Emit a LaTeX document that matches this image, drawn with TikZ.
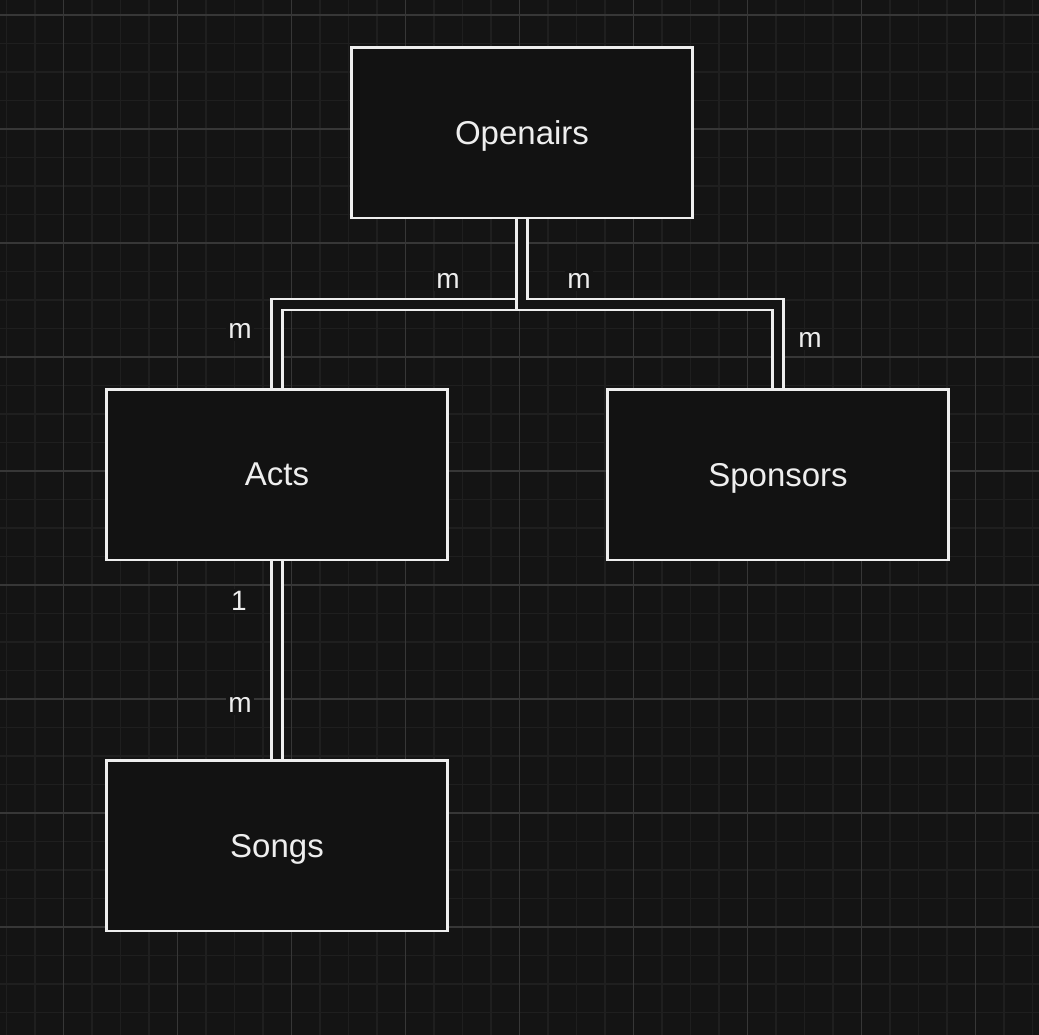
\documentclass[tikz,border=0pt]{standalone}
\usepackage{fontspec}
\setmainfont{Liberation Sans}

\definecolor{canvas}{HTML}{141414}
\definecolor{minorline}{HTML}{1F1F1F}
\definecolor{majorline}{HTML}{373737}
\definecolor{boxfill}{HTML}{121212}
\definecolor{inkline}{HTML}{EEEEEE}

\tikzset{
  minorgrid/.style={draw=minorline, line width=1pt},
  majorgrid/.style={draw=majorline, line width=1pt},
  entity/.style={draw=inkline, fill=boxfill, line width=2pt,
    minimum width=256pt, minimum height=128pt, text=inkline, text depth=0pt,
    font=\fontsize{24.75}{30}\selectfont},
  card/.style={fill=canvas, text=inkline, inner sep=2pt,
    font=\fontsize{21}{25}\selectfont},
  link/.style={draw=inkline, line width=1.9pt, double=canvas,
    double distance=6.35pt}
}

\begin{document}
\begin{tikzpicture}[x=0.75pt, y=-0.75pt]

      \fill[canvas] (0,0) rectangle (1039,1035);
      \useasboundingbox (0,0) rectangle (1039,1035);

      % grid
      \foreach \i in {0,...,36} {
        \draw[minorgrid] ({6.5+28.5*\i},0) -- ++(0,1035);
      }
      \foreach \i in {1,...,36} {
        \draw[minorgrid] (0,{-13.5+28.5*\i}) -- ++(1039,0);
      }
      \foreach \i in {0,...,8} {
        \draw[majorgrid] ({63.5+114*\i},0) -- ++(0,1035);
        \draw[majorgrid] (0,{15+114*\i}) -- ++(1039,0);
      }

      \begin{scope}[every node/.style={entity}]
        \node (openairs) at (522,132.5) {Openairs};
        \node (acts)     at (277,474.5) {Acts};
        \node (sponsors) at (778,474.5) {Sponsors};
        \node (songs)    at (277,845.5) {Songs};
      \end{scope}

      \draw[link] (openairs.south) -- ++(0,85.5) -| (acts.north);
      \draw[link] (openairs.south) -- ++(0,85.5) -| (sponsors.north);
      \draw[link] (acts.south) -- (songs.north);

      \begin{scope}[every node/.style={card}]
        \node (m-oa) at (448,281) {m};
        \node (m-os) at (579,281) {m};
        \node (m-ao) at (240,331) {m};
        \node (m-so) at (810,340) {m};
        \node (one-as) at (239,601) {1};
        \node (m-sa) at (240,705) {m};
      \end{scope}

    \end{tikzpicture}
\end{document}
